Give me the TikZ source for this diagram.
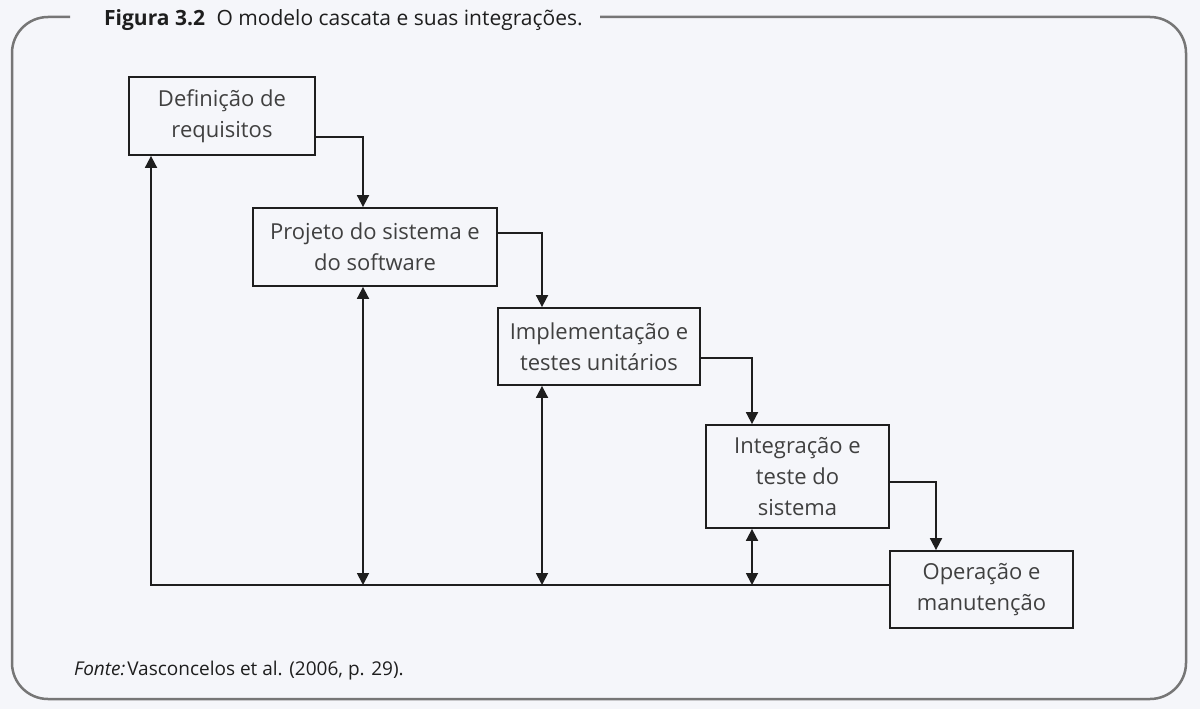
\documentclass[tikz,border=0pt]{standalone}
\usepackage{fontspec}
\setmainfont{Open Sans}
\usetikzlibrary{arrows.meta,calc}
\definecolor{bg}{HTML}{F5F6FA}
\definecolor{framec}{HTML}{767676}
\definecolor{ink}{HTML}{1E1E1E}
\tikzset{
  stage/.style={draw=ink, line width=1.8pt, fill=bg, inner sep=0pt, align=center,
    font=\fontsize{22}{31}\selectfont, text=ink!85},
  arr/.style={draw=ink, line width=1.8pt, -{Triangle[length=12pt,width=12pt]}},
  dbl/.style={draw=ink, line width=1.8pt, {Triangle[length=12pt,width=12pt]}-{Triangle[length=12pt,width=12pt]}},
}
\begin{document}
\begin{tikzpicture}[x=1pt,y=-1pt]
\useasboundingbox[fill=bg] (0,0) rectangle (1200,709);
\draw[framec, line width=2.5pt, rounded corners=36pt]
  (70,17) -- (12,17) -- (12,699) -- (1186,699) -- (1186,17) -- (600,17);
\node[anchor=base west, font=\fontsize{21}{25}\selectfont, text=ink, inner sep=0pt] (title) at (104,26)
  {\textbf{Figura 3.2}\hspace{0.55em}O modelo cascata e suas integrações.};
\node[anchor=base west, font=\fontsize{19}{23}\selectfont, text=ink, inner sep=0pt] (fonte) at (74,675)
  {\textit{Fonte:}\hspace{0.1em}Vasconcelos et al. (2006, p. 29).};

\node[stage, minimum width=186pt, minimum height=78pt] (d1) at (222,116) {Definição de\\requisitos};
\node[stage, minimum width=244pt, minimum height=78pt] (d2) at (375,247) {Projeto do sistema e\\do software};
\node[stage, minimum width=202pt, minimum height=77pt] (d3) at (599,346.5) {Implementação e\\testes unitários};
\node[stage, minimum width=183pt, minimum height=103pt] (d4) at (797.5,476.5) {Integração e\\teste do\\sistema};
\node[stage, minimum width=183pt, minimum height=77pt] (d5) at (981.5,589.5) {Operação e\\manutenção};
\coordinate (bl) at (151,585);

\draw[arr] ([yshift=-21pt]d1.east) -| ([xshift=-12pt]d2.north);
\draw[arr] ([yshift=14pt]d2.east) -| ([xshift=-57pt]d3.north);
\draw[arr] ([yshift=-11.5pt]d3.east) -| ([xshift=-45.5pt]d4.north);
\draw[arr] ([yshift=-5.5pt]d4.east) -| ([xshift=-45.5pt]d5.north);

\draw[arr] ([yshift=4.5pt]d5.west) -- (bl) -- ([xshift=-71pt]d1.south);
\draw[dbl] ([xshift=-12pt]d2.south) coordinate (a2) -- (a2 |- bl);
\draw[dbl] ([xshift=-57pt]d3.south) coordinate (a3) -- (a3 |- bl);
\draw[dbl] ([xshift=-45.5pt]d4.south) coordinate (a4) -- (a4 |- bl);
\end{tikzpicture}
\end{document}
